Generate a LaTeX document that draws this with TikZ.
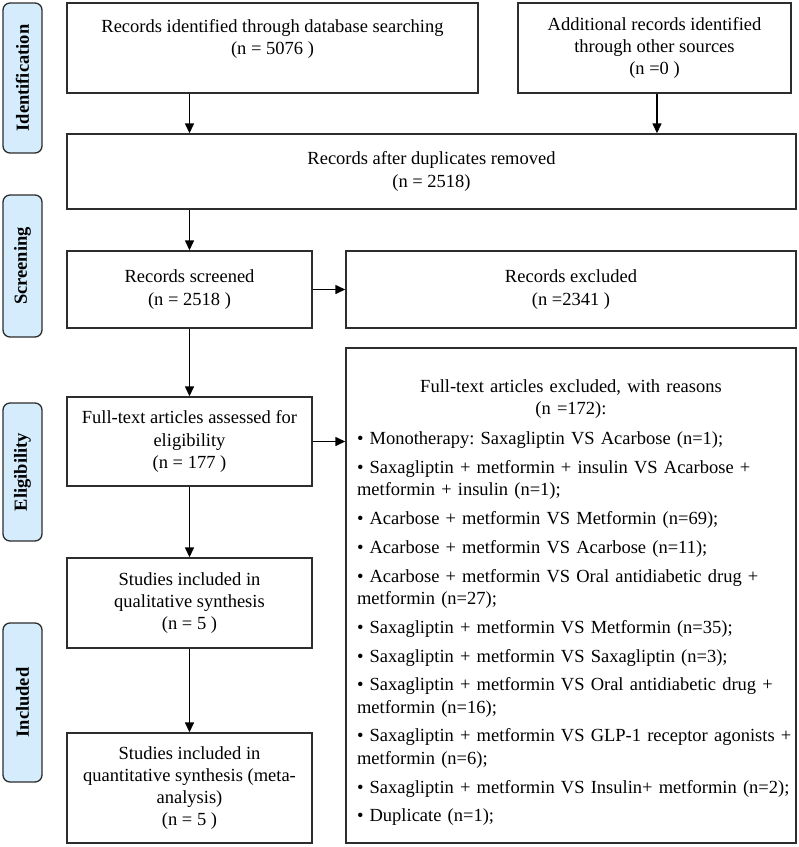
\documentclass[tikz,border=0pt]{standalone}
\usepackage{fontspec}
\setmainfont{Liberation Serif}
\usetikzlibrary{arrows.meta,calc}
\definecolor{lblue}{RGB}{212,236,252}
\definecolor{bordc}{RGB}{45,45,45}
\newcommand\myfs{\fontsize{18.5}{22.3}\selectfont\frenchspacing}
\newcommand\itm[1]{\mbox{#1}\par\vspace{6.5pt}}
\newcommand\itmlast[1]{\mbox{#1}\par}
\begin{document}
\begin{tikzpicture}[x=1pt,y=-1pt,
  box/.style={draw=bordc,line width=1.4pt,align=center,inner sep=0pt,font=\myfs},
  side/.style={draw=bordc,fill=lblue,line width=1.3pt,rounded corners=7pt,font=\myfs\bfseries,inner sep=0pt,rotate=90,minimum height=39pt},
  arr/.style={line width=1.4pt,-{Triangle[length=10pt,width=9pt]}}]
\useasboundingbox (0,0) rectangle (799,847);
% side labels
\node[side,minimum width=150pt] (s1) at (22.5,78) {Identification};
\node[side,minimum width=142pt] (s2) at (22.5,266) {Screening};
\node[side,minimum width=138pt] (s3) at (22.5,472) {Eligibility};
\node[side,minimum width=159pt] (s4) at (22.5,702.5) {Included};
% boxes
\node[box,minimum width=411pt,minimum height=90pt] (A) at (272.5,48) {Records identified through database searching\\(n = 5076 )\\\mbox{}};
\node[box,minimum width=273pt,minimum height=90pt] (B) at (654.5,48) {Additional records identified\\through other sources\\(n =0 )};
\node[box,minimum width=729pt,minimum height=75pt] (C) at (431.5,171.5) {Records after duplicates removed\\(n = 2518)};
\node[box,minimum width=245pt,minimum height=77pt] (D) at (189.5,289.5) {Records screened\\(n = 2518 )};
\node[box,minimum width=450pt,minimum height=77pt] (E) at (571,289.5) {Records excluded\\(n =2341 )};
\node[box,minimum width=245pt,minimum height=89pt] (F) at (189.5,441.5) {Full-text articles assessed for\\eligibility\\(n = 177 )};
\node[box,minimum width=245pt,minimum height=90pt] (H) at (189.5,603) {Studies included in\\qualitative synthesis\\(n = 5 )};
\node[box,minimum width=245pt,minimum height=110pt] (I) at (189.5,788) {Studies included in\\quantitative synthesis (meta-\\analysis)\\(n = 5 )};
\node[box,minimum width=450pt,minimum height=495pt] (G) at (571,595.5) {};
\node[font=\myfs,inner sep=0pt,text width=428pt,align=left] (Gt) at (571,602.5) {%
{\centering Full-text articles excluded, with reasons\\(n =172):\par}\vspace{8pt}
\itm{• Monotherapy: Saxagliptin VS Acarbose (n=1);}
\mbox{• Saxagliptin + metformin + insulin VS Acarbose +}\\\mbox{metformin + insulin (n=1);}\par\vspace{6.5pt}
\itm{• Acarbose + metformin VS Metformin (n=69);}
\itm{• Acarbose + metformin VS Acarbose (n=11);}
\mbox{• Acarbose + metformin VS Oral antidiabetic drug +}\\\mbox{metformin (n=27);}\par\vspace{6.5pt}
\itm{• Saxagliptin + metformin VS Metformin (n=35);}
\itm{• Saxagliptin + metformin VS Saxagliptin (n=3);}
\mbox{• Saxagliptin + metformin VS Oral antidiabetic drug +}\\\mbox{metformin (n=16);}\par\vspace{6.5pt}
\mbox{• Saxagliptin + metformin VS GLP-1 receptor agonists +}\\\mbox{metformin (n=6);}\par\vspace{6.5pt}
\itm{• Saxagliptin + metformin VS Insulin+ metformin (n=2);}
\itmlast{• Duplicate (n=1);}};
% arrows
\draw[arr] (A.south -| D.north) -- (C.north -| D.north);
\draw[arr] ($(B.south)+(2.5,0)$) -- ($(B.south |- C.north)+(2.5,0)$);
\draw[arr] (C.south -| D.north) -- (D.north);
\draw[arr] (D.east) -- (E.west);
\draw[arr] (D.south) -- (F.north);
\draw[arr] (F.east) -- (F.east -| G.west);
\draw[arr] (F.south) -- (H.north);
\draw[arr] (H.south) -- (I.north);
\end{tikzpicture}
\end{document}
